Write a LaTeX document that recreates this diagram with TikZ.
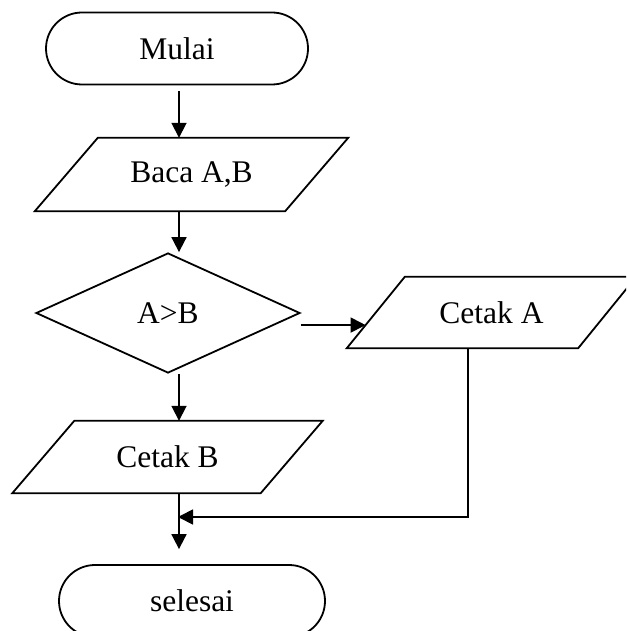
\documentclass[tikz,border=0pt]{standalone}
\usepackage{fontspec}
\setmainfont{Liberation Serif}
\usetikzlibrary{arrows.meta,shapes.geometric,shapes.misc,calc}
\tikzset{
  ink/.style={draw=black, line width=1.8pt},
  arr/.style={ink, -{Triangle[length=15pt,width=15pt]}},
  txt/.style={font=\fontsize{31.5}{36}\selectfont},
  terminal/.style={rounded rectangle, ink, txt, minimum height=72pt, inner sep=0pt},
  decision/.style={diamond, ink, txt, minimum width=264pt, minimum height=120pt, inner sep=0pt},
  iobox/.style={rectangle, txt, inner sep=0pt},
}
\newcommand{\drawpara}[2]{\draw[ink] ([xshift=-#2]#1.south west) -- ([xshift=-#2]#1.south east) -- ([xshift=#2]#1.north east) -- ([xshift=#2]#1.north west) -- cycle;}
\begin{document}
\begin{tikzpicture}[x=1pt,y=-1pt]
\path[use as bounding box] (0,0) rectangle (626,631);
\fill[white] (0,0) rectangle (626,631);
\clip (0,0) rectangle (626,631);
\coordinate (spine) at (179,0);
\node[terminal, minimum width=262pt] (mulai) at (177,48.5) {Mulai};
\node[iobox, minimum width=250pt, minimum height=73pt] (baca) at (191.5,174.5) {Baca A,B};
\drawpara{baca}{31.5pt}
\node[decision] (cek) at (168,313) {A>B};
\node[iobox, minimum width=231pt, minimum height=71pt] (ceta) at (491.5,312.5) {Cetak A};
\drawpara{ceta}{29pt}
\node[iobox, minimum width=248pt, minimum height=72pt] (cetb) at (167.5,457) {Cetak B};
\drawpara{cetb}{31pt}
\node[terminal, minimum width=266pt] (selesai) at (192,601) {selesai};
\coordinate (caL) at ($([xshift=-29pt]ceta.south west)!0.324!([xshift=29pt]ceta.north west)$);
\coordinate (merge) at (179,517);
\draw[arr, shorten <=6pt] (mulai.south -| spine) -- (baca.north -| spine);
\draw[arr] (baca.south -| spine) -- (cek.north -| spine);
\draw[arr] (cek.east |- caL) -- (caL);
\draw[arr] (cek.south -| spine) -- (cetb.north -| spine);
\draw[arr, shorten >=15pt] (cetb.south -| spine) -- (selesai.north -| spine);
\draw[arr, shorten >=-1pt] ([xshift=-23.5pt]ceta.south) |- (merge);
\end{tikzpicture}
\end{document}
